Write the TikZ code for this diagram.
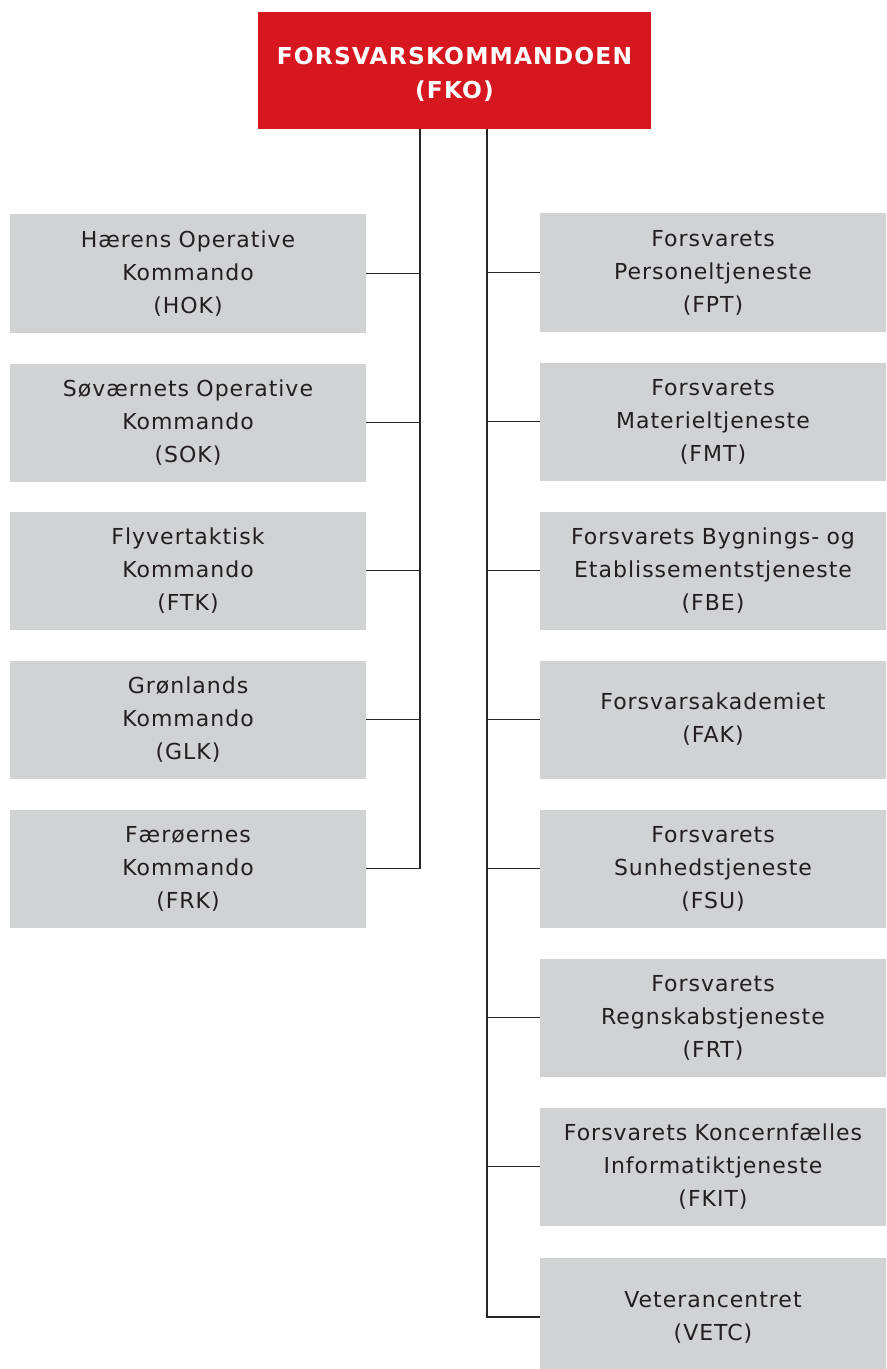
\documentclass[tikz,border=0pt]{standalone}
\usepackage{fontspec}
\setmainfont{DejaVu Sans}
\newfontfamily\unitfont[LetterSpace=4.5]{DejaVu Sans}
\newfontfamily\headfont[LetterSpace=5]{DejaVu Sans}
\usetikzlibrary{positioning}
\definecolor{fkored}{HTML}{D7171F}
\definecolor{unitgray}{HTML}{D1D2D4}
\definecolor{unittext}{HTML}{231F20}

\begin{document}
\begin{tikzpicture}
[x=0.75pt,y=-0.75pt,%
  unit/.style={shape=rectangle,fill=unitgray,text=unittext,inner sep=0pt,%
    minimum width=267pt,minimum height=88.5pt,text width=265pt,align=center,%
    font=\unitfont\fontsize{16.5}{24.75}\selectfont},%
  lunit/.style={unit},%
  runit/.style={unit,minimum width=259.5pt,text width=258pt},%
  head/.style={shape=rectangle,fill=fkored,text=white,inner sep=0pt,%
    minimum width=294.75pt,minimum height=87.75pt,align=center,%
    font=\headfont\fontsize{17.5}{25.5}\selectfont\bfseries},%
  link/.style={-,draw=black!85,line width=0.9pt}]
\useasboundingbox (0,0) rectangle (887,1369);
\node[head] (fko) at (454.5,70.5) {\rule{0pt}{18.5pt}FORSVARSKOMMANDOEN\\(FKO)};

\node[lunit] (hok) at (188,273.5) {Hærens Operative\\Kommando\\(HOK)};
\node[lunit] (sok) at (188,422.5) {Søværnets Operative\\Kommando\\(SOK)};
\node[lunit] (ftk) at (188,570.5) {Flyvertaktisk\\Kommando\\(FTK)};
\node[lunit] (glk) at (188,719.5) {Grønlands\\Kommando\\(GLK)};
\node[lunit] (frk) at (188,868.5) {Færøernes\\Kommando\\(FRK)};

\node[runit] (fpt) at (713,272.5) {Forsvarets\\Personeltjeneste\\(FPT)};
\node[runit] (fmt) at (713,421.5) {Forsvarets\\Materieltjeneste\\(FMT)};
\node[runit] (fbe) at (713,570.5) {Forsvarets Bygnings- og\\Etablissementstjeneste\\(FBE)};
\node[runit] (fak) at (713,719.5) {Forsvarsakademiet\\(FAK)};
\node[runit] (fsu) at (713,868.5) {Forsvarets\\Sunhedstjeneste\\(FSU)};
\node[runit] (frt) at (713,1017.5) {Forsvarets\\Regnskabstjeneste\\(FRT)};
\node[runit] (fkit) at (713,1166.5) {Forsvarets Koncernfælles\\Informatiktjeneste\\(FKIT)};
\node[runit] (vetc) at (713,1317) {Veterancentret\\(VETC)};

\coordinate (lbus) at (420,129);
\coordinate (rbus) at (487,129);

\draw[link] (fko.south -| lbus) |- (frk.east);
\draw[link] (fko.south -| rbus) |- (vetc.west);
\draw[link] (hok.east) -- (hok.east -| lbus);
\draw[link] (sok.east) -- (sok.east -| lbus);
\draw[link] (ftk.east) -- (ftk.east -| lbus);
\draw[link] (glk.east) -- (glk.east -| lbus);
\draw[link] (fpt.west) -- (fpt.west -| rbus);
\draw[link] (fmt.west) -- (fmt.west -| rbus);
\draw[link] (fbe.west) -- (fbe.west -| rbus);
\draw[link] (fak.west) -- (fak.west -| rbus);
\draw[link] (fsu.west) -- (fsu.west -| rbus);
\draw[link] (frt.west) -- (frt.west -| rbus);
\draw[link] (fkit.west) -- (fkit.west -| rbus);
\end{tikzpicture}
\end{document}
